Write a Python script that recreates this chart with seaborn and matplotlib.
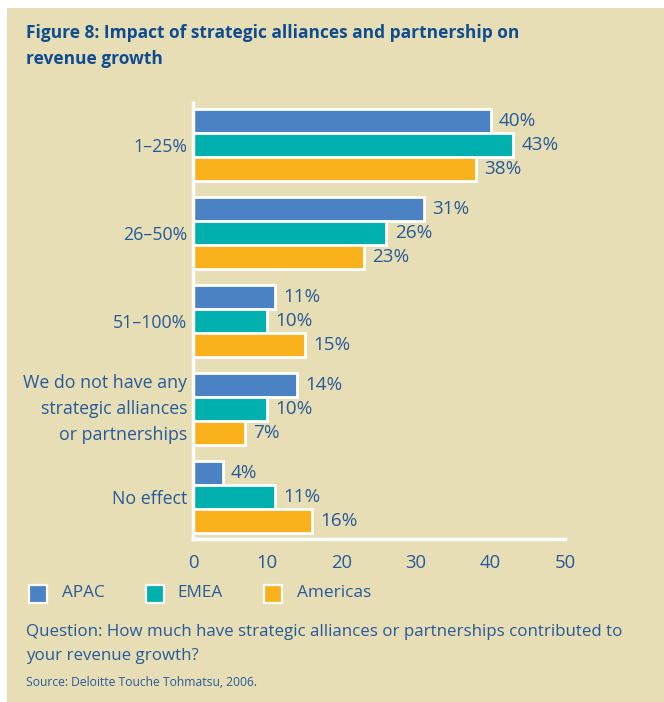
import matplotlib
matplotlib.use("Agg")
import matplotlib.pyplot as plt
from matplotlib.patches import Rectangle
import pandas as pd
import seaborn as sns

# Survey answers and regional shares (%)
categories = ["1\u201325%", "26\u201350%", "51\u2013100%",
              "We do not have any\nstrategic alliances\nor partnerships", "No effect"]
regions = ["APAC", "EMEA", "Americas"]
apac = [40, 31, 11, 14, 4]
emea = [43, 26, 10, 10, 11]
americas = [38, 23, 15, 7, 16]
x_ticks = [0, 10, 20, 30, 40, 50]

colors = ["#4A82C4", "#00B0AE", "#F9B21B"]
bg = "#E7DEB6"
text_blue = "#275A9B"
title_blue = "#0F4C90"

df = pd.DataFrame({
    "Category": categories * 3,
    "Region": [r for r in regions for _ in categories],
    "Value": apac + emea + americas,
})

sns.set_theme(style="white")
plt.rcParams["font.family"] = ["Open Sans", "DejaVu Sans"]

W, H = 664, 702
fig = plt.figure(figsize=(W / 100, H / 100), dpi=100, facecolor="white")
fig.add_artist(Rectangle((7 / W, 0), 1 - 7 / W, 1 - 8 / H, transform=fig.transFigure,
                         facecolor=bg, edgecolor="none", zorder=-10))

ax = fig.add_axes([193 / W, 1 - 539 / H, (565 - 193) / W, (539 - 103) / H])
ax.set_facecolor("none")

sns.barplot(data=df, y="Category", x="Value", hue="Region", hue_order=regions,
            order=categories, palette=colors, saturation=1, orient="h", width=0.82,
            edgecolor="white", linewidth=2, legend=False, ax=ax)

for cont in ax.containers:
    ax.bar_label(cont, labels=[f"{b.get_width():g}%" for b in cont], padding=6,
                 color=text_blue, fontsize=13.6)

ax.set_xlim(0, 50)
ax.set_ylim(len(categories) - 1 + 0.477, -0.477)
ax.set_xticks(x_ticks)
ax.set_xticklabels([str(t) for t in x_ticks])
ax.set_xlabel("")
ax.set_ylabel("")
ax.tick_params(axis="x", length=0, colors=text_blue, labelsize=13.3, pad=11)
ax.tick_params(axis="y", length=0, colors=text_blue, labelsize=12.8, pad=4)
for lab in ax.get_yticklabels():
    lab.set_horizontalalignment("right")
    lab.set_multialignment("right")
    lab.set_linespacing(1.55)
    if "\n" in lab.get_text():
        lab.set_verticalalignment("center")
for s in ["top", "right"]:
    ax.spines[s].set_visible(False)
for s in ["left", "bottom"]:
    ax.spines[s].set_color("white")
    ax.spines[s].set_linewidth(2.5)

# Title
fig.text(26 / W, 1 - 46 / H, "Figure 8: Impact of strategic alliances and partnership on\nrevenue growth",
         ha="left", va="center", fontsize=12.5, fontweight="bold", color=title_blue,
         linespacing=1.55)

# Legend
sq_x = [28.5, 145.5, 263.5]
lab_x = [62, 177, 297]
for c, sx, lx, name in zip(colors, sq_x, lab_x, regions):
    fig.add_artist(Rectangle((sx / W, 1 - 603 / H), 18 / W, 18 / H, transform=fig.transFigure,
                             facecolor=c, edgecolor="white", linewidth=1.6))
    fig.text(lx / W, 1 - 593 / H, name, ha="left", va="center", fontsize=12.4, color=text_blue)

fig.text(26 / W, 1 - 644 / H,
         "Question: How much have strategic alliances or partnerships contributed to\nyour revenue growth?",
         ha="left", va="center", fontsize=12.2, color=text_blue, linespacing=1.65)
fig.text(26 / W, 1 - 682 / H, "Source: Deloitte Touche Tohmatsu, 2006.",
         ha="left", va="center", fontsize=8.7, color=text_blue)

fig.savefig("out.png", dpi=100, facecolor="white")
